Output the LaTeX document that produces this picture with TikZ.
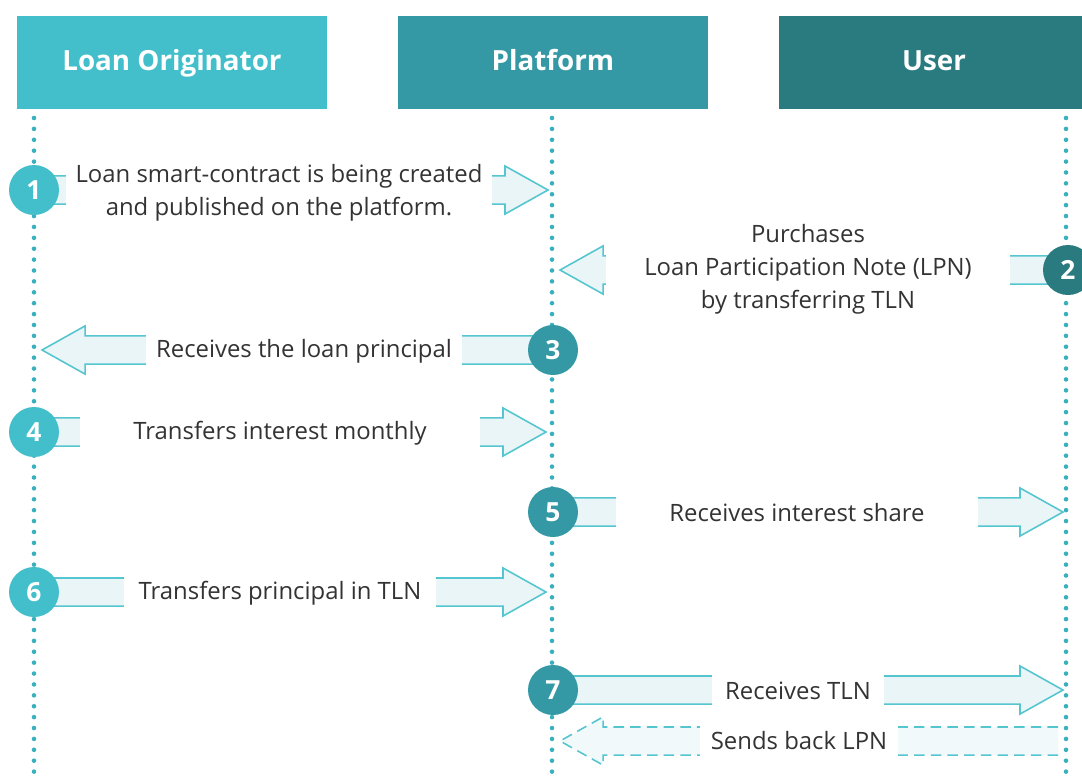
\documentclass[tikz,border=0pt]{standalone}
\usepackage{fontspec}
\setmainfont{Open Sans}
\usepackage{tikz}
\usetikzlibrary{positioning,
  calc}
\usepackage{xcolor}

\definecolor{tealA}{HTML}{42BFCB}
\definecolor{tealB}{HTML}{3499A4}
\definecolor{tealC}{HTML}{2A7B80}
\definecolor{arrowfill}{HTML}{EAF5F8}
\definecolor{arrowline}{HTML}{55C5D0}
\definecolor{dotcol}{HTML}{3AAFBE}
\definecolor{txt}{HTML}{333333}

\tikzset{
  header/.style={rectangle, minimum width=6.2cm, minimum height=1.86cm,
    text=white, text height=1em, text depth=0pt,
    font=\bfseries\fontsize{15.8}{18}\selectfont},
  lifeline/.style={dotcol, line width=2.6pt, line cap=round,
    dash pattern=on 0pt off 6.2pt},
  block arrow/.style={draw=arrowline, fill=arrowfill, line width=0.9pt,
    line join=miter},
  label box/.style={fill=white, text=txt, align=center, inner sep=0pt,
    minimum height=0.68cm, font=\fontsize{13.6}{18.8}\selectfont},
  num/.style={circle, minimum size=1cm, inner sep=0pt, text=white,
    font=\bfseries\fontsize{15}{18}\selectfont}
}

% fat arrow from the centre of #2 to the tip #3 (horizontal only)
\newcommand{\blockarrow}[3][]{%
  \draw[block arrow,#1] let \p1=(#2), \p2=(#3), \n1={sign(\x2-\x1)} in
    (\x1,\y1+8pt) -- (\x2-\n1*24.5pt,\y1+8pt) -- (\x2-\n1*24.5pt,\y1+13.7pt)
    -- (\x2,\y1) -- (\x2-\n1*24.5pt,\y1-13.7pt) -- (\x2-\n1*24.5pt,\y1-8pt)
    -- (\x1,\y1-8pt);
}

\begin{document}
\begin{tikzpicture}[x=0.02cm, y=-0.02cm]

      \useasboundingbox (0,0) rectangle (1082,779);

      % Headers
      \node[header, fill=tealA] (orig) at (172,62) {Loan Originator};
      \node[header, fill=tealB] (plat) at (553,62) {Platform};
      \node[header, fill=tealC] (user) at (934,62) {User};

      % Lifelines
      \coordinate (orig top) at (34,118);   \coordinate (orig end) at (34,779);
      \coordinate (plat top) at (552,118);  \coordinate (plat end) at (552,779);
      \coordinate (user top) at (1066,118); \coordinate (user end) at (1066,779);
      \draw[lifeline] (orig top) -- (orig end);
      \draw[lifeline] (plat top) -- (plat end);
      \draw[lifeline] (user top) -- (user end);

      % Steps: start points and tips
      \coordinate (s1) at (34,190);   \coordinate (e1) at (548,190);
      \coordinate (s2) at (1068,270); \coordinate (e2) at (560,270);
      \coordinate (s3) at (553,350);  \coordinate (e3) at (42,350);
      \coordinate (s4) at (34,432);   \coordinate (e4) at (546,432);
      \coordinate (s5) at (553,512);  \coordinate (e5) at (1063,512);
      \coordinate (s6) at (34,592);   \coordinate (e6) at (546,592);
      \coordinate (s7) at (553,690);  \coordinate (e7) at (1063,690);
      \coordinate (s8) at (1058,741); \coordinate (e8) at (560,741);

      \blockarrow{s1}{e1}
      \blockarrow{s2}{e2}
      \blockarrow{s3}{e3}
      \blockarrow{s4}{e4}
      \blockarrow{s5}{e5}
      \blockarrow{s6}{e6}
      \blockarrow{s7}{e7}
      \blockarrow[fill=arrowfill!60, dash pattern=on 6pt off 3.5pt]{s8}{e8}

      % Labels
      \node[label box, minimum width=8.52cm] (t1) at (279,193)
        {Loan smart-contract is being created\\and published on the platform.};
      \node[label box, minimum width=8.1cm] (t2) at (808,269)
        {Purchases\\Loan Participation Note (LPN)\\by transferring TLN};
      \node[label box, minimum width=6.32cm] (t3) at (304,351) {Receives the loan principal};
      \node[label box, minimum width=8cm] (t4) at (280,433) {Transfers interest monthly};
      \node[label box, minimum width=7.26cm] (t5) at (797,513) {Receives interest share};
      \node[label box, minimum width=6.26cm] (t6) at (280,593) {Transfers principal in TLN};
      \node[label box, minimum width=3.44cm] (t7) at (798,691) {Receives TLN};
      \node[label box, minimum width=3.96cm] (t8) at (799,741) {Sends back LPN};

      % Step numbers
      \node[num, fill=tealA] (n1) at (s1) {1};
      \node[num, fill=tealC] (n2) at (s2) {2};
      \node[num, fill=tealB] (n3) at (s3) {3};
      \node[num, fill=tealA] (n4) at (s4) {4};
      \node[num, fill=tealB] (n5) at (s5) {5};
      \node[num, fill=tealA] (n6) at (s6) {6};
      \node[num, fill=tealB] (n7) at (s7) {7};
    \end{tikzpicture}
\end{document}
